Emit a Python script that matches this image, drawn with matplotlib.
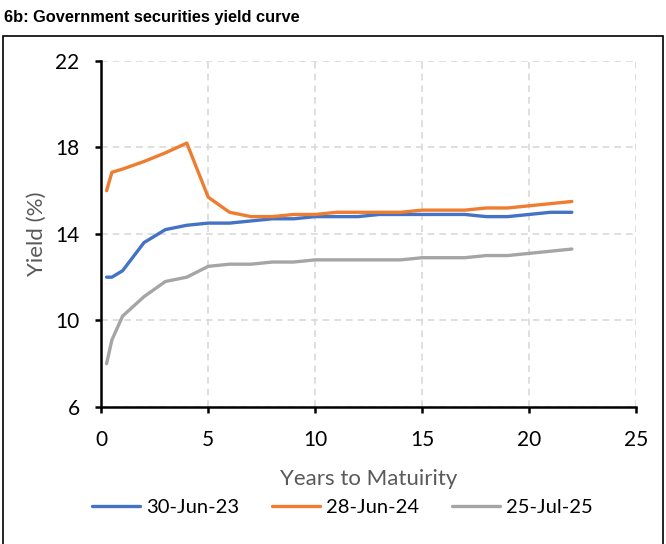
import matplotlib.pyplot as plt
from matplotlib.patches import Rectangle

# maturities (years)
maturity = [0.25, 0.5, 1, 2, 3, 4, 5, 6, 7, 8, 9, 10, 11, 12, 13, 14, 15, 16, 17, 18, 19, 20, 21, 22]

yield_jun23 = [12.0, 12.0, 12.3, 13.6, 14.2, 14.4, 14.5, 14.5, 14.6, 14.7, 14.7, 14.8,
               14.8, 14.8, 14.9, 14.9, 14.9, 14.9, 14.9, 14.8, 14.8, 14.9, 15.0, 15.0]
yield_jun24 = [16.0, 16.85, 17.0, 17.35, 17.75, 18.2, 15.7, 15.0, 14.8, 14.8, 14.9, 14.9,
               15.0, 15.0, 15.0, 15.0, 15.1, 15.1, 15.1, 15.2, 15.2, 15.3, 15.4, 15.5]
yield_jul25 = [8.0, 9.1, 10.2, 11.1, 11.8, 12.0, 12.5, 12.6, 12.6, 12.7, 12.7, 12.8,
               12.8, 12.8, 12.8, 12.8, 12.9, 12.9, 12.9, 13.0, 13.0, 13.1, 13.2, 13.3]

labels = ["30-Jun-23", "28-Jun-24", "25-Jul-25"]
colors = ["#4472C4", "#ED7D31", "#A5A5A5"]

plt.rcParams['font.family'] = ['Lato', 'DejaVu Sans']

fig = plt.figure(figsize=(6.66, 5.44), dpi=100)
ax = fig.add_axes([0.152, 0.252, 0.803, 0.636])

for ys, lab, c in zip([yield_jun23, yield_jun24, yield_jul25], labels, colors):
    ax.plot(maturity, ys, color=c, lw=2.4, label=lab, solid_capstyle='round')

ax.set_xlim(0, 25)
ax.set_ylim(6, 22)
ax.set_xticks([0, 5, 10, 15, 20, 25])
ax.set_yticks([6, 10, 14, 18, 22])
ax.grid(True, color="#d9d9d9", linestyle=(0, (4, 3)), lw=1.2)
ax.set_axisbelow(True)
for s in ["top", "right"]:
    ax.spines[s].set_visible(False)
for s in ["left", "bottom"]:
    ax.spines[s].set_linewidth(1.8)
ax.tick_params(axis="both", labelsize=15, width=1.8, length=4.5, direction="out")
ax.tick_params(axis="y", pad=11)
ax.tick_params(axis="x", pad=12)

ax.set_ylabel("Yield (%)", fontsize=16, color="#595959", labelpad=6)
ax.set_xlabel("Years to Matuirity", fontsize=16, color="#595959", labelpad=14)

ax.legend(loc="center", bbox_to_anchor=(0.451, -0.29), ncol=3, frameon=False,
          fontsize=14.5, handlelength=2.4, columnspacing=1.6, handletextpad=0.3)

fig.text(0.006, 0.967, "6b: Government securities yield curve", fontsize=11.8,
         fontweight="bold", va="center", ha="left",
         family=["Liberation Sans", "DejaVu Sans"])

frame = Rectangle((0.004, -0.02), 0.992, 0.954, transform=fig.transFigure,
                  fill=False, edgecolor="black", lw=1.2, clip_on=False)
fig.patches.append(frame)

fig.savefig("out.png", dpi=100)
